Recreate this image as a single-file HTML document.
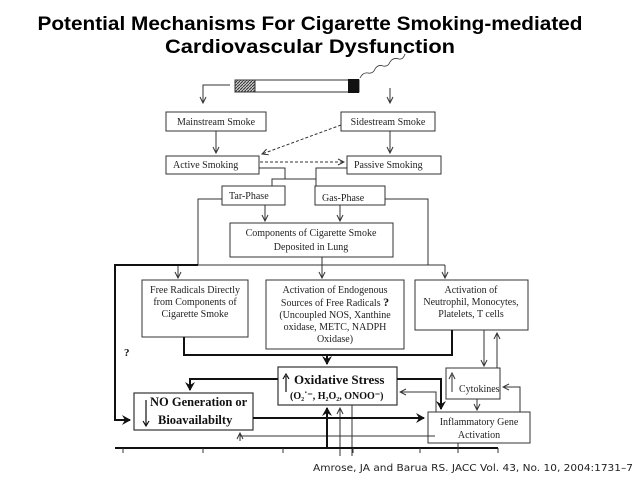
<!DOCTYPE html>
<html><head><meta charset="utf-8"><style>
body{margin:0;background:#fff}
svg{display:block}
.t{font-family:"Liberation Serif",serif;font-size:10px;fill:#222}
.b{font-family:"Liberation Serif",serif;font-weight:bold;fill:#111}
</style></head><body>
<svg width="638" height="479" viewBox="0 0 638 479" xmlns="http://www.w3.org/2000/svg">
<defs>
<marker id="a" markerWidth="8" markerHeight="8" refX="7" refY="4" orient="auto" markerUnits="userSpaceOnUse"><path d="M1,1 L7,4 L1,7" fill="none" stroke="#333" stroke-width="1"/></marker>
<marker id="A" markerWidth="10" markerHeight="10" refX="8" refY="5" orient="auto" markerUnits="userSpaceOnUse"><path d="M0,0 L9,5 L0,10 L3,5z" fill="#111"/></marker>
<pattern id="h" width="3" height="3" patternUnits="userSpaceOnUse"><rect width="3" height="3" fill="#ccc"/><path d="M0,3 L3,0" stroke="#333" stroke-width="1"/></pattern>
</defs>
<text x="310" y="30" text-anchor="middle" font-family="Liberation Sans,sans-serif" font-weight="bold" font-size="19.5" textLength="545" lengthAdjust="spacingAndGlyphs">Potential Mechanisms For Cigarette Smoking-mediated</text>
<text x="310" y="53" text-anchor="middle" font-family="Liberation Sans,sans-serif" font-weight="bold" font-size="19.5" textLength="290" lengthAdjust="spacingAndGlyphs">Cardiovascular Dysfunction</text>
<rect x="235" y="80" width="124" height="12" fill="#fff" stroke="#333"/>
<rect x="235" y="80" width="20" height="12" fill="url(#h)" stroke="#333"/>
<rect x="348" y="79" width="11" height="14" fill="#111"/>
<path d="M360,78 q3,-6 8,-5 q5,1 7,-4 q3,-5 8,-3 q5,1 7,-4 q3,-5 9,-3 q4,1 6,-5" fill="none" stroke="#333" stroke-width="0.8"/>
<g fill="none" stroke="#333" stroke-width="1">
<path d="M230,85 H203 V103" marker-end="url(#a)"/>
<path d="M390,88 V103" marker-end="url(#a)"/>
<rect x="166" y="112" width="100" height="19"/>
<rect x="341" y="112" width="94" height="19"/>
<path d="M216,131 V153" marker-end="url(#a)"/>
<path d="M390,131 V153" marker-end="url(#a)"/>
<path d="M341,125 L262,154" stroke-dasharray="3,2" marker-end="url(#a)"/>
<path d="M260,162 H344" stroke-dasharray="3,2" marker-end="url(#a)"/>
<rect x="166" y="156" width="93" height="18"/>
<rect x="347" y="156" width="94" height="18"/>
<path d="M259,168 H285 V179 M272,186 V179 H316 M316,186 V179 M347,168 H316 V179"/>
<rect x="222" y="186" width="63" height="19"/>
<rect x="315" y="186" width="70" height="19"/>
<path d="M265,205 V221" marker-end="url(#a)"/>
<path d="M340,205 V221" marker-end="url(#a)"/>
<rect x="230" y="223" width="163" height="34"/>
<path d="M222,199 H198 V265 M385,199 H428 V265"/>
<path d="M178,265 H445 M322,257 V277" />
<path d="M178,265 V278" marker-end="url(#a)"/>
<path d="M322,265 V278" marker-end="url(#a)"/>
<path d="M445,265 V278" marker-end="url(#a)"/>
<rect x="142" y="280" width="106" height="57"/>
<rect x="266" y="280" width="138" height="69"/>
<rect x="415" y="280" width="113" height="50"/>
<path d="M484,330 V366" marker-end="url(#a)"/>
<path d="M497,368 V333" marker-end="url(#a)"/>
<rect x="446" y="368" width="54" height="31"/>
<path d="M520,412 V387 H503" marker-end="url(#a)"/>
<path d="M477,399 V410" marker-end="url(#a)"/>
<rect x="428" y="412" width="102" height="31"/>
<path d="M436,412 V392 H400" marker-end="url(#a)"/>
<rect x="278" y="367" width="119" height="38" stroke-width="1.2"/>
<rect x="134" y="393" width="119" height="37" stroke-width="1.2"/>
<path d="M435,436 H240 V433" />
<path d="M240,441 V433" marker-end="url(#a)"/>
<path d="M340,456 V408" marker-end="url(#a)"/>
<path d="M352,405 V456"/>
</g>
<g fill="none" stroke="#111" stroke-width="2">
<path d="M198,265 H115 V420 H130" marker-end="url(#A)"/>
<path d="M184,337 V355 H452 V330"/>
<path d="M327,355 V364" marker-end="url(#A)"/>
<path d="M278,379 H190 V390" marker-end="url(#A)"/>
<path d="M397,379 H441 V409" marker-end="url(#A)"/>
<path d="M253,418 H424" marker-end="url(#A)"/>
<path d="M327,448 V408" marker-end="url(#A)"/>
<path d="M115,448 H498"/>
</g>
<g fill="none" stroke="#333" stroke-width="1">
<path d="M123,448 v5 M203,448 v5 M283,448 v5 M353,448 v5 M420,448 v5 M458,448 v5 M498,448 v5 M458,443 v5"/>
</g>
<text class="t" x="216" y="125" text-anchor="middle">Mainstream Smoke</text>
<text class="t" x="388" y="125" text-anchor="middle">Sidestream Smoke</text>
<text class="t" x="173" y="168">Active Smoking</text>
<text class="t" x="354" y="168">Passive Smoking</text>
<text class="t" x="229" y="199">Tar-Phase</text>
<text class="t" x="322" y="201">Gas-Phase</text>
<text class="t" x="311" y="236" text-anchor="middle">Components of Cigarette Smoke</text>
<text class="t" x="311" y="250" text-anchor="middle">Deposited in Lung</text>
<text class="t" x="195" y="293" text-anchor="middle">Free Radicals Directly</text>
<text class="t" x="195" y="305" text-anchor="middle">from Components of</text>
<text class="t" x="195" y="317" text-anchor="middle">Cigarette Smoke</text>
<text class="t" x="335" y="293" text-anchor="middle">Activation of Endogenous</text>
<text class="t" x="335" y="306" text-anchor="middle">Sources of Free Radicals <tspan class="b" font-size="12">?</tspan></text>
<text class="t" x="335" y="318" text-anchor="middle">(Uncoupled NOS, Xanthine</text>
<text class="t" x="335" y="330" text-anchor="middle">oxidase, METC, NADPH</text>
<text class="t" x="335" y="342" text-anchor="middle">Oxidase)</text>
<text class="t" x="471" y="293" text-anchor="middle">Activation of</text>
<text class="t" x="471" y="305" text-anchor="middle">Neutrophil, Monocytes,</text>
<text class="t" x="471" y="317" text-anchor="middle">Platelets, T cells</text>
<text class="b" x="124" y="356" font-size="11">?</text>
<text class="b" x="294" y="384" font-size="13">Oxidative Stress</text>
<text class="b" x="290" y="399" font-size="10">(O₂˙⁻, H₂O₂, ONOO⁻)</text>
<path d="M286,392 V376 M283,379 L286,374 L289,379" fill="none" stroke="#111" stroke-width="1.2"/>
<text class="b" x="150" y="406" font-size="12.5">NO Generation or</text>
<text class="b" x="158" y="424" font-size="12.5">Bioavailabilty</text>
<path d="M146,400 V425 M143,421 L146,426 L149,421" fill="none" stroke="#111" stroke-width="1.2"/>
<text class="t" x="459" y="392">Cytokines</text>
<path d="M452,392 V375 M449,379 L452,373 L455,379" fill="none" stroke="#333" stroke-width="1"/>
<text class="t" x="479" y="425" text-anchor="middle">Inflammatory Gene</text>
<text class="t" x="479" y="438" text-anchor="middle">Activation</text>
<text x="313" y="471" font-family="DejaVu Sans,sans-serif" font-size="10" fill="#222" textLength="320" lengthAdjust="spacingAndGlyphs">Amrose, JA and Barua RS. JACC Vol. 43, No. 10, 2004:1731–7</text>
</svg>
</body></html>
